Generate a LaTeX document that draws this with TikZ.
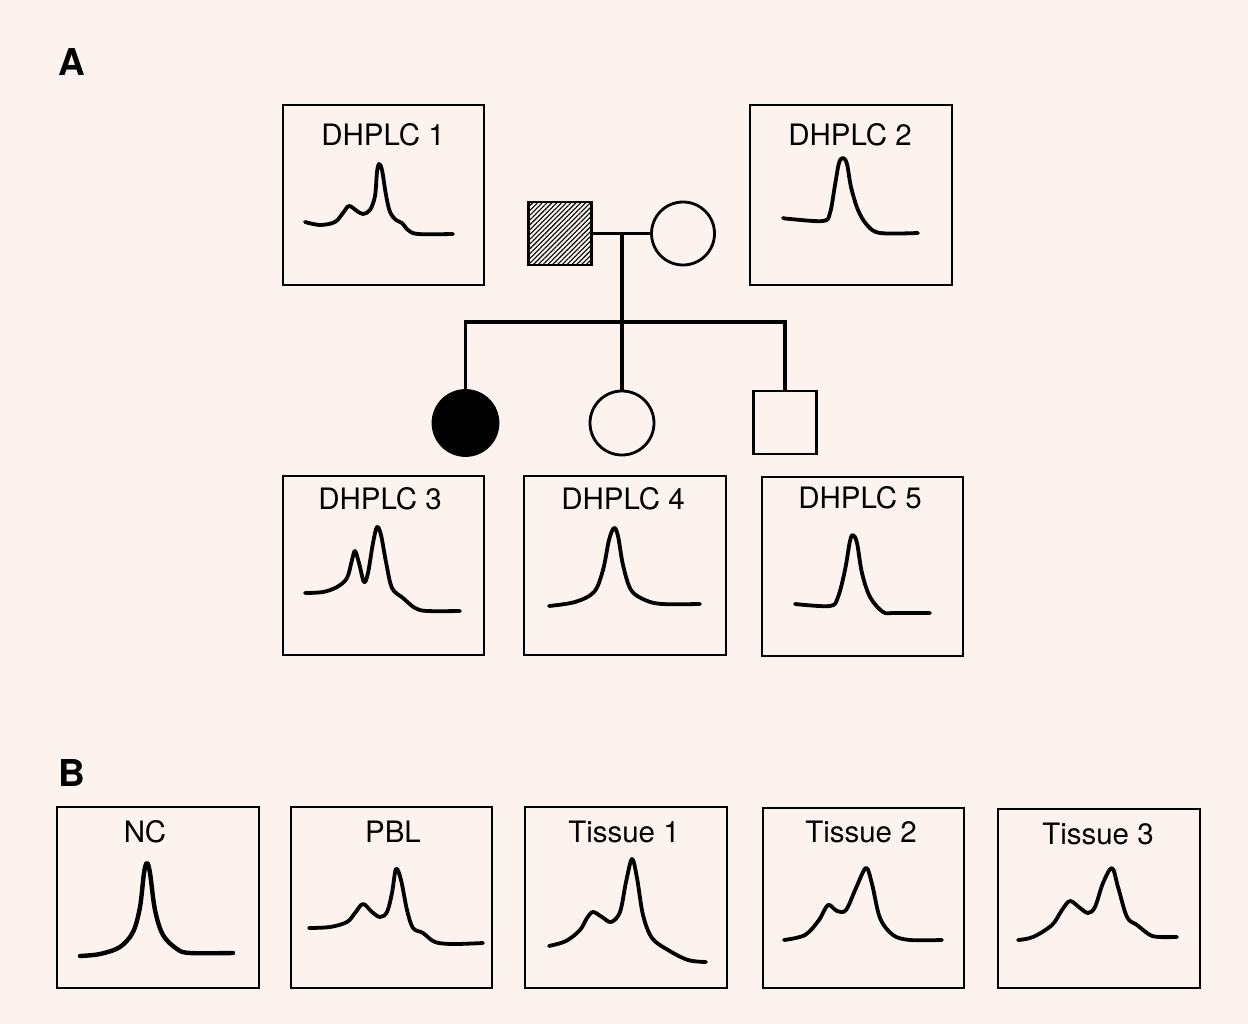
\documentclass[tikz,border=0pt]{standalone}
\usepackage{fontspec}
\setmainfont{TeX Gyre Heros}
\usetikzlibrary{patterns.meta}
\definecolor{bgpink}{RGB}{252,243,239}
\tikzset{
  panel/.style={draw=black, line width=2.3pt, rectangle, inner sep=0pt,
    minimum width=201pt, minimum height=180pt},
  lbl/.style={font=\fontsize{29.5}{32}\selectfont, inner sep=0pt},
  panelletter/.style={font=\bfseries\fontsize{37}{40}\selectfont, inner sep=0pt},
  trace/.style={line width=3.8pt, line cap=round, line join=round},
  male/.style={draw=black, line width=2.8pt, rectangle, minimum size=63pt, inner sep=0pt},
  female/.style={draw=black, line width=2.8pt, circle, minimum size=63pt, inner sep=0pt},
  kin/.style={line width=3.4pt},
}
\begin{document}
\begin{tikzpicture}[x=1pt, y=-1pt]
\fill[bgpink] (0,0) rectangle (1248,1024);
\useasboundingbox (0,0) rectangle (1248,1024);

% panel letters
\node[panelletter] (lA) at (72,62) {A};
\node[panelletter] (lB) at (72,773) {B};

% ---------- pedigree ----------
\node[male, pattern={Lines[angle=45, distance=3.4pt, line width=1.1pt]}] (father) at (560,233.5) {};
\node[female] (mother) at (683,233.5) {};
\node[female, fill=black, minimum size=65pt] (c1) at (465.5,423) {};
\node[female, minimum size=64pt] (c2) at (622,423) {};
\node[male] (c3) at (785,422.5) {};

\coordinate (mate) at (622,234);
\coordinate (sib) at (622,322);
\draw[kin] (father.east) -- (mother.west);
\draw[kin] (mate) -- (sib);
\draw[kin] (c1.north) |- (sib) -| (c3.north);
\draw[kin] (sib) -- (c2.north);

% ---------- DHPLC panels ----------
\node[panel] (d1) at (383.5,195) {};
\node[panel, minimum width=202pt] (d2) at (851,195) {};
\node[panel, minimum height=179pt] (d3) at (383.5,565.5) {};
\node[panel, minimum width=202pt, minimum height=179pt] (d4) at (625,565.5) {};
\node[panel, minimum height=179pt] (d5) at (862.5,566.5) {};

\node[lbl] (t1) at (383,135) {DHPLC 1};
\node[lbl] (t2) at (850,135) {DHPLC 2};
\node[lbl] (t3) at (380,499) {DHPLC 3};
\node[lbl] (t4) at (623,499) {DHPLC 4};
\node[lbl] (t5) at (860,498) {DHPLC 5};

\draw[trace] plot[smooth, tension=0.55] coordinates {
  (305,222) (320,225) (335,222) (343,213) (349,206) (357,211) (363,214)
  (370,210) (375,196) (377,172) (379,164) (382,170) (386,195) (390,212)
  (396,220) (402,223) (408,230) (418,234) (453,234)};
\draw[trace] plot[smooth, tension=0.55] coordinates {
  (783,218) (790,219) (823,221) (830,213) (835,185) (839,163) (843,158)
  (847,164) (851,187) (858,210) (867,225) (880,233) (918,233)};
\draw[trace] plot[smooth, tension=0.55] coordinates {
  (305,593) (323,592) (337,587) (347,578) (352,560) (355,551) (359,563)
  (364,582) (368,573) (373,543) (377,527) (381,535) (386,562) (392,588)
  (403,598) (415,608) (427,611) (460,611)};
\draw[trace] plot[smooth, tension=0.55] coordinates {
  (549,606) (575,602) (594,592) (603,570) (609,540) (614,528) (618,536)
  (623,565) (631,590) (645,600) (662,604) (700,604)};
\draw[trace] plot[smooth, tension=0.55] coordinates {
  (795,604) (830,606) (838,597) (845,570) (850,541) (853,535) (857,543)
  (862,573) (870,597) (883,612) (895,613) (930,613)};

% ---------- sample panels ----------
\node[panel, minimum width=202pt, minimum height=181pt] (b1) at (158,897.5) {};
\node[panel, minimum height=181pt] (b2) at (391.5,897.5) {};
\node[panel, minimum width=202pt, minimum height=181pt] (b3) at (626,897.5) {};
\node[panel] (b4) at (863.5,898) {};
\node[panel, minimum width=202pt, minimum height=179pt] (b5) at (1099,898.5) {};

\node[lbl] (s1) at (145,832) {NC};
\node[lbl] (s2) at (393,832) {PBL};
\node[lbl] (s3) at (624,832) {Tissue 1};
\node[lbl] (s4) at (861,832) {Tissue 2};
\node[lbl] (s5) at (1098,834) {Tissue 3};

\draw[trace, line width=4.4pt] plot[smooth, tension=0.55] coordinates {
  (80,956) (100,954) (120,947) (133,932) (140,907) (144,873) (147,863)
  (150,873) (155,910) (163,935) (177,949) (190,953) (233,953)};
\draw[trace] plot[smooth, tension=0.55] coordinates {
  (309,928) (330,927) (347,922) (355,913) (363,904) (372,912) (380,917)
  (387,912) (392,893) (396,869) (401,880) (407,910) (413,928) (423,933)
  (435,942) (453,944) (483,943)};
\draw[trace] plot[smooth, tension=0.55] coordinates {
  (549,946) (566,941) (580,930) (587,918) (593,912) (602,917) (611,922)
  (620,912) (626,882) (632,859) (637,878) (643,915) (652,938) (668,950)
  (688,960) (706,962)};
\draw[trace] plot[smooth, tension=0.55] coordinates {
  (784,940) (805,935) (819,920) (828,905) (837,911) (846,910) (856,888)
  (866,868) (872,884) (880,918) (893,935) (910,940) (942,940)};
\draw[trace] plot[smooth, tension=0.55] coordinates {
  (1018,940) (1033,937) (1052,925) (1062,910) (1070,901) (1080,908)
  (1088,913) (1095,907) (1103,883) (1112,868) (1118,887) (1127,917)
  (1137,925) (1150,935) (1160,937) (1177,937)};
\end{tikzpicture}
\end{document}
